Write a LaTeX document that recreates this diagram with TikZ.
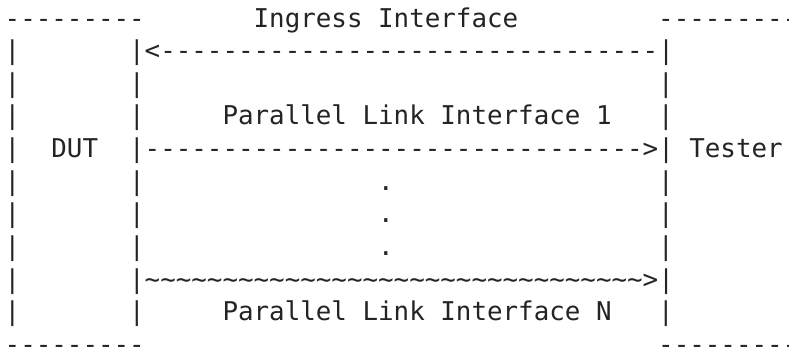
\documentclass[tikz,border=0pt]{standalone}
\usepackage{fontspec}
\setmonofont{DejaVu Sans Mono}
\definecolor{ink}{RGB}{36,36,38}
\tikzset{
  asciitxt/.style={anchor=base west, inner sep=0pt, outer sep=0pt,
    font=\ttfamily\fontsize{25.85pt}{30pt}\selectfont, text=ink}
}
\newcommand\AsciiAt[4]{\node[asciitxt] (#1) at ({4.7pt+#2*15.56pt},{-27pt-#3*32.65pt}) {#4};}
\def\Tl{\textasciitilde}
\def\DashRun{--------------------------------}
\def\TildeRun{\Tl\Tl\Tl\Tl\Tl\Tl\Tl\Tl\Tl\Tl\Tl\Tl\Tl\Tl\Tl\Tl\Tl\Tl\Tl\Tl\Tl\Tl\Tl\Tl\Tl\Tl\Tl\Tl\Tl\Tl\Tl\Tl}
\begin{document}
\begin{tikzpicture}
\useasboundingbox (0,0) rectangle (789pt,-346pt);
% row 0
\AsciiAt{toplft}{0}{0}{---------}
\AsciiAt{ingress}{16}{0}{Ingress Interface}
\AsciiAt{toprgt}{42}{0}{---------}
% row 1: ingress arrow
\AsciiAt{l1}{0}{1}{|}
\AsciiAt{ingarrow}{8}{1}{|<\DashRun|}
% row 2
\AsciiAt{l2}{0}{2}{|}
\AsciiAt{m2}{8}{2}{|}
\AsciiAt{r2}{42}{2}{|}
% row 3
\AsciiAt{l3}{0}{3}{|}
\AsciiAt{m3}{8}{3}{|}
\AsciiAt{plone}{14}{3}{Parallel Link Interface 1}
\AsciiAt{r3}{42}{3}{|}
% row 4
\AsciiAt{l4}{0}{4}{|}
\AsciiAt{dut}{3}{4}{DUT}
\AsciiAt{linkone}{8}{4}{|\DashRun>|}
\AsciiAt{tester}{44}{4}{Tester}
% rows 5-7: dots
\AsciiAt{l5}{0}{5}{|}
\AsciiAt{m5}{8}{5}{|}
\AsciiAt{d5}{24}{5}{.}
\AsciiAt{r5}{42}{5}{|}
\AsciiAt{l6}{0}{6}{|}
\AsciiAt{m6}{8}{6}{|}
\AsciiAt{d6}{24}{6}{.}
\AsciiAt{r6}{42}{6}{|}
\AsciiAt{l7}{0}{7}{|}
\AsciiAt{m7}{8}{7}{|}
\AsciiAt{d7}{24}{7}{.}
\AsciiAt{r7}{42}{7}{|}
% row 8: link N
\AsciiAt{l8}{0}{8}{|}
\AsciiAt{linkn}{8}{8}{|\TildeRun>|}
% row 9
\AsciiAt{l9}{0}{9}{|}
\AsciiAt{m9}{8}{9}{|}
\AsciiAt{pln}{14}{9}{Parallel Link Interface N}
\AsciiAt{r9}{42}{9}{|}
% row 10
\AsciiAt{botlft}{0}{10}{---------}
\AsciiAt{botrgt}{42}{10}{---------}
\end{tikzpicture}
\end{document}
